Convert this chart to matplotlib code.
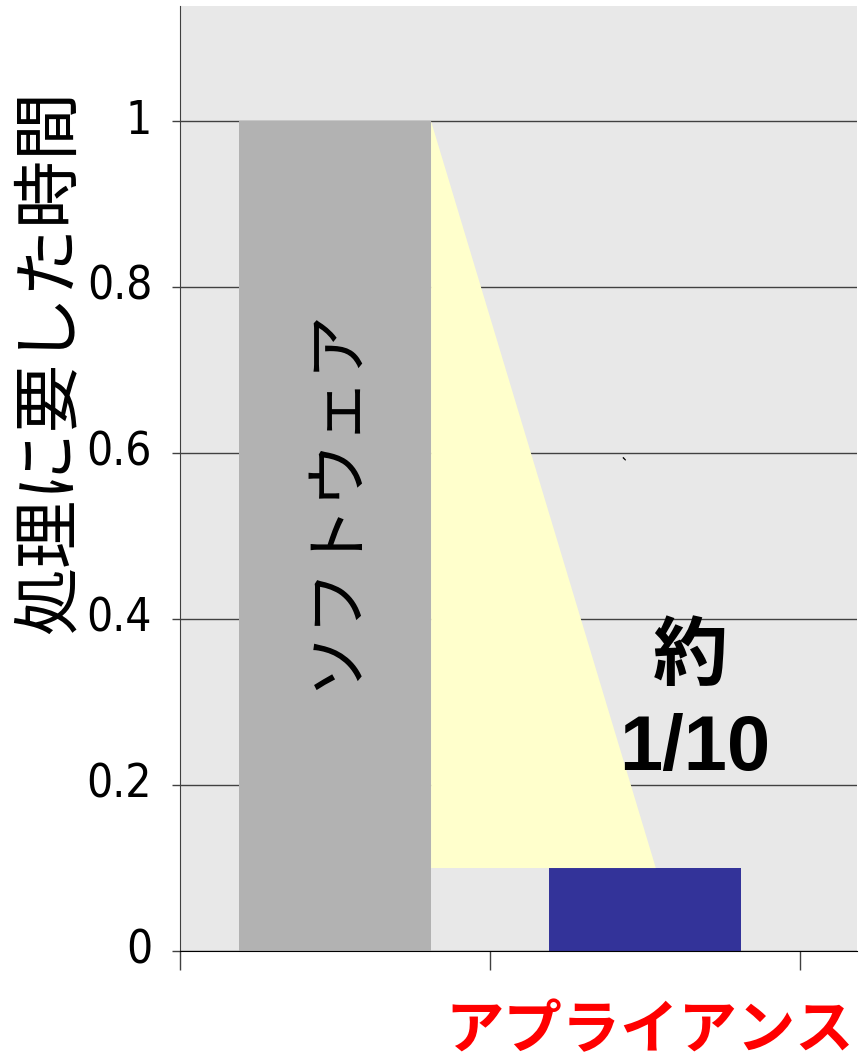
import matplotlib.pyplot as plt
import matplotlib.transforms as mtransforms
import numpy as np

# データ
categorias = ['ソフトウェア', 'アプライアンス']
tiempos = [1.0, 0.1]
yticks = [0, 0.2, 0.4, 0.6, 0.8, 1]
ytick_labels = ['0', '0.2', '0.4', '0.6', '0.8', '1']
ylabel = '処理に要した時間'
ratio_text = ['約', '1/10']

plt.rcParams['font.family'] = ['Noto Sans CJK JP', 'DejaVu Sans']

fig = plt.figure(figsize=(8.6, 10.64), dpi=100)
ax = fig.add_axes([180 / 860, 113 / 1064, 677 / 860, 945 / 1064])
ax.set_facecolor('#E8E8E8')

positions = np.arange(len(categorias))
bar_width = 0.62
colores = ['#B2B2B2', '#333399']

# グリッド線 (背面)
ax.set_axisbelow(True)
ax.yaxis.grid(True, color='#404040', linewidth=1)
ax.xaxis.grid(False)

ax.bar(positions, tiempos, width=bar_width, color=colores, zorder=2)

# 黄色の三角形 (ソフトウェア -> アプライアンス)
x_izq = positions[0] + bar_width / 2
x_punta = positions[1] + 0.035
tri = plt.Polygon([(x_izq, tiempos[0]), (x_punta, tiempos[1]), (x_izq, tiempos[1])],
                  closed=True, facecolor='#FFFFCC', edgecolor='none', zorder=3)
ax.add_patch(tri)

ax.set_xlim(-0.5, 1.684)
ax.set_ylim(0, 1.139)

ax.set_yticks(yticks)
ax.set_yticklabels(ytick_labels, family='DejaVu Sans', fontstretch='condensed', fontsize=33)
ax.tick_params(axis='y', length=6, width=1, color='#404040', pad=14)
# ラベルを少し上にずらす
desplazamiento = mtransforms.ScaledTranslation(0, 5 / 100, fig.dpi_scale_trans)
for lbl in ax.get_yticklabels():
    lbl.set_transform(lbl.get_transform() + desplazamiento)

ax.set_xticks([-0.5, 0.5, 1.5])
ax.set_xticklabels([])
ax.tick_params(axis='x', length=14, width=1, color='#404040')

for lado in ['top', 'right']:
    ax.spines[lado].set_visible(False)
ax.spines['left'].set_color('#404040')
ax.spines['bottom'].set_color('black')

# 棒の中の文字
ax.text(positions[0], 0.545, categorias[0], rotation=90, ha='center', va='center',
        fontsize=46, color='black', zorder=4)
ax.text(1.145, 0.354, ratio_text[0], ha='center', va='center', fontsize=54,
        fontweight='bold', color='black', zorder=4)
ax.text(1.16, 0.243, ratio_text[1], ha='center', va='center', fontsize=56,
        fontweight='bold', family=['Liberation Sans', 'DejaVu Sans'], color='black', zorder=4)
ax.text(0.935, 0.585, '`', ha='center', va='center', fontsize=12, color='black', zorder=4)

fig.text(50 / 860, 702 / 1064, ylabel, rotation=90, ha='center', va='center', fontsize=49)
fig.text(650 / 860, 33 / 1064, categorias[1], ha='center', va='center', fontsize=42,
         color='#FF0000', fontweight='bold')

fig.savefig('out.png', dpi=100)
